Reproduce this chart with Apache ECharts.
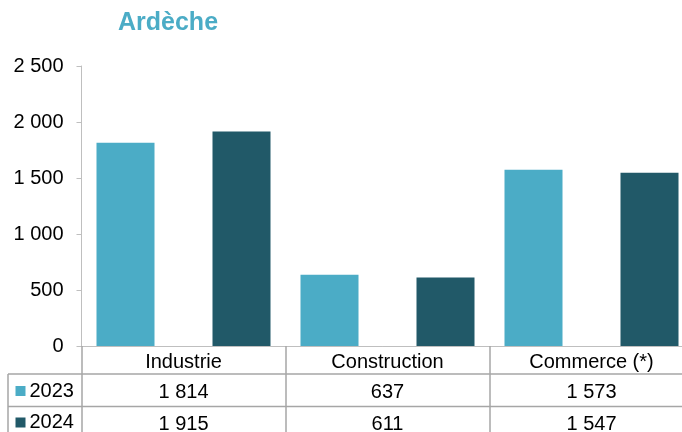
<!DOCTYPE html>
<html><head><meta charset="utf-8">
<script src="https://cdn.jsdelivr.net/npm/echarts@6/dist/echarts.min.js"></script>
<style>html,body{margin:0;padding:0;background:#fff}#c{width:682px;height:432px}</style>
</head><body><div id="c"></div>
<script>
var title = 'Ardèche';
var categories = ['Industrie', 'Construction', 'Commerce (*)'];
var seriesNames = ['2023', '2024'];
var values2023 = [1814, 637, 1573];
var values2024 = [1915, 611, 1547];
var yTicks = [0, 500, 1000, 1500, 2000, 2500];

var FONT = "'Liberation Sans', Arial, sans-serif";
var C1 = '#4BACC6', C2 = '#215968';
var GRID_LEFT = 81.5, GRID_TOP = 66, GRID_H = 280, GRID_W = 612;
var LINE = '#A6A6A6';
var FS = 20;

function fmt(v){ return String(v).replace(/\B(?=(\d{3})+(?!\d))/g, ' '); }

var chart = echarts.init(document.getElementById('c'), null, {renderer:'canvas'});
function rowAxis(vals, offset){
  return {
    type:'category', gridIndex:0, position:'bottom', offset:offset, data:categories,
    axisLine:{show:false}, axisTick:{show:false},
    axisLabel:{interval:0, margin:16, verticalAlign:'middle', fontSize:FS, color:'#000', fontFamily:FONT,
      formatter:function(v,i){ return vals ? fmt(vals[i]) : v; }}
  };
}
var x0 = rowAxis(null, 0);
x0.axisLine = {show:true, lineStyle:{color:'#BFBFBF', width:1}};
x0.axisTick = {show:true, interval:0, length:91, lineStyle:{color:LINE, width:1.5}};

function legendRow(name, top){
  return {orient:'vertical', left:15.5, top:top, itemWidth:10, itemHeight:10, icon:'rect', padding:0,
    textStyle:{fontSize:FS, color:'#000', fontFamily:FONT, lineHeight:20, padding:[0,0,0,-1]}, selectedMode:false,
    data:[name]};
}

chart.setOption({
  animation:false,
  title:{text:title, left:118, top:11, padding:0, textStyle:{fontSize:25, fontWeight:'bold', color:C1, fontFamily:FONT}},
  legend:[legendRow(seriesNames[0], 381), legendRow(seriesNames[1], 412.5)],
  grid:{left:GRID_LEFT, top:GRID_TOP, width:GRID_W, height:GRID_H, containLabel:false, outerBoundsMode:'none'},
  xAxis:[x0, rowAxis(values2023, 30), rowAxis(values2024, 62)],
  yAxis:{type:'value', min:yTicks[0], max:yTicks[yTicks.length-1], interval:yTicks[1]-yTicks[0],
    axisLine:{show:true, lineStyle:{color:'#BFBFBF', width:1}},
    axisTick:{show:true, length:5, lineStyle:{color:'#BFBFBF'}},
    splitLine:{show:false},
    axisLabel:{margin:18, fontSize:FS, color:'#000', fontFamily:FONT, formatter:function(v){return fmt(v);}}},
  series:[
    {name:seriesNames[0], type:'bar', data:values2023, barWidth:58, barGap:'100%', itemStyle:{color:C1}},
    {name:seriesNames[1], type:'bar', data:values2024, barWidth:58, barGap:'100%', itemStyle:{color:C2}}
  ],
  graphic:[
    {type:'line', shape:{x1:8, y1:374, x2:700, y2:374}, style:{stroke:LINE, lineWidth:1.5}},
    {type:'line', shape:{x1:8, y1:406.5, x2:700, y2:406.5}, style:{stroke:LINE, lineWidth:1.5}},
    {type:'line', shape:{x1:8, y1:374, x2:8, y2:440}, style:{stroke:LINE, lineWidth:1.5}}
  ]
});
</script></body></html>
